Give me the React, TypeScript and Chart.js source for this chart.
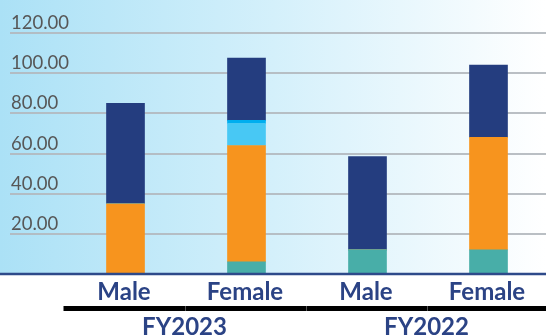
import React, { useEffect, useRef } from "react";
import { Chart, registerables } from "chart.js";

Chart.register(...registerables);

// Categories: gender per fiscal year, grouped two per year
const genders = ["Male", "Female", "Male", "Female"];
const years = ["FY2023", "FY2022"];

// Stacked segments, bottom to top
const tealValues = [0, 6, 12, 12];
const orangeValues = [35, 58, 0, 56];
const skyValues = [0, 11, 0, 0];
const cyanValues = [0, 1.5, 0, 0];
const navyValues = [50, 31, 46.5, 36];

const yTicks = [20, 40, 60, 80, 100, 120];

const LABEL_BLUE = "#2b4385";
// category text sits slightly left of the bar centres
const LABEL_SHIFT = -1.5;

const decorPlugin = {
  id: "decor",
  beforeDraw(chart: any) {
    const { ctx, width } = chart;
    const y = chart.scales.y;
    const baseY = y.getPixelForValue(0);
    ctx.save();
    ctx.fillStyle = "#ffffff";
    ctx.fillRect(0, 0, width, chart.height);
    const g = ctx.createLinearGradient(0, 0, 546, 0);
    g.addColorStop(0, "#abe1f6");
    g.addColorStop(0.5, "#d4f0fb");
    g.addColorStop(1, "#ffffff");
    ctx.fillStyle = g;
    ctx.fillRect(0, 0, width, baseY);
    ctx.restore();
  },
  beforeDatasetsDraw(chart: any) {
    const { ctx, width } = chart;
    const y = chart.scales.y;
    ctx.save();
    ctx.strokeStyle = "rgba(178,184,190,0.9)";
    ctx.lineWidth = 2;
    ctx.font = "18.5px Lato";
    ctx.fillStyle = "#575757";
    ctx.textAlign = "left";
    ctx.textBaseline = "alphabetic";
    yTicks.forEach((v) => {
      const py = Math.round(y.getPixelForValue(v));
      ctx.beginPath();
      ctx.moveTo(10, py);
      ctx.lineTo(width, py);
      ctx.stroke();
      ctx.fillText(v.toFixed(2), 11, py - 4.5);
    });
    ctx.restore();
  },
  afterDatasetsDraw(chart: any) {
    const { ctx, width } = chart;
    const x = chart.scales.x;
    const y = chart.scales.y;
    const baseY = y.getPixelForValue(0);
    ctx.save();
    // baseline axis
    ctx.strokeStyle = "#2e4a8a";
    ctx.lineWidth = 2.5;
    ctx.beginPath();
    ctx.moveTo(0, baseY);
    ctx.lineTo(width, baseY);
    ctx.stroke();

    // gender labels
    ctx.font = "bold 24px Lato";
    ctx.fillStyle = LABEL_BLUE;
    ctx.textAlign = "center";
    ctx.textBaseline = "middle";
    genders.forEach((g, i) => {
      ctx.fillText(g, x.getPixelForValue(i) + LABEL_SHIFT, 292);
    });

    // year group rules and labels
    const half = (x.getPixelForValue(1) - x.getPixelForValue(0)) / 2;
    ctx.fillStyle = "#000000";
    const left = x.getPixelForValue(0) - half + LABEL_SHIFT;
    const right = x.getPixelForValue(genders.length - 1) + half;
    ctx.fillRect(left, 306, right - left, 5);
    ctx.fillStyle = "#555555";
    for (let i = 1; i < genders.length; i++) {
      const bx = Math.round(x.getPixelForValue(i) - half + LABEL_SHIFT);
      ctx.fillRect(bx, 306, 1, 5);
    }
    ctx.fillStyle = LABEL_BLUE;
    years.forEach((yr, j) => {
      const cx = (x.getPixelForValue(j * 2) + x.getPixelForValue(j * 2 + 1)) / 2 + LABEL_SHIFT;
      ctx.fillText(yr, cx, 327);
    });
    ctx.restore();
  },
};

export default function App() {
  const ref = useRef<HTMLCanvasElement | null>(null);

  useEffect(() => {
    if (!ref.current) return;
    const ds = (label: string, data: number[], color: string) => ({
      label,
      data,
      backgroundColor: color,
      borderWidth: 0,
      barThickness: 38,
    });
    const chart = new Chart(ref.current, {
      type: "bar",
      data: {
        labels: genders,
        datasets: [
          ds("Tier 1", tealValues, "#48aea8"),
          ds("Tier 2", orangeValues, "#f7941e"),
          ds("Tier 3", skyValues, "#48c8f4"),
          ds("Tier 4", cyanValues, "#00aeef"),
          ds("Tier 5", navyValues, "#243d7f"),
        ],
      },
      options: {
        responsive: false,
        animation: false,
        layout: { padding: { left: 65, right: 0, top: 33, bottom: 62 } },
        scales: {
          x: { stacked: true, display: false },
          y: { stacked: true, display: false, min: 0, max: 120 },
        },
        plugins: { legend: { display: false }, tooltip: { enabled: false } },
      },
      plugins: [decorPlugin],
    });
    return () => chart.destroy();
  }, []);

  return (
    <div
      style={{
        position: "fixed",
        left: 0,
        top: 0,
        width: 546,
        height: 336,
        overflow: "hidden",
        background: "#ffffff",
      }}
    >
      <canvas ref={ref} width={549} height={336} />
    </div>
  );
}
